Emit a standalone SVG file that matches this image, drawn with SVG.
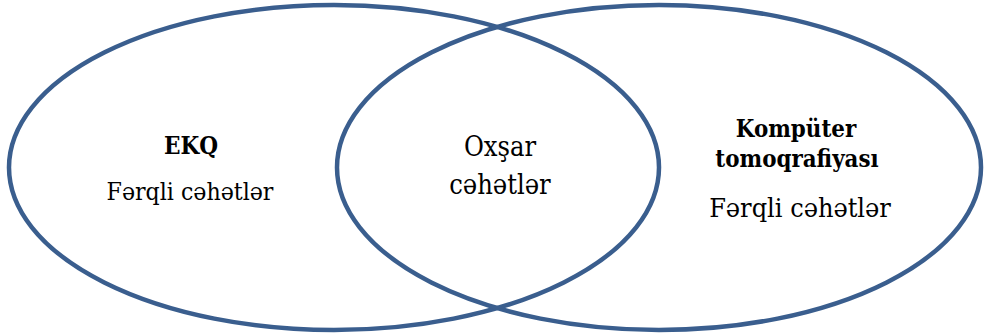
<svg xmlns="http://www.w3.org/2000/svg" width="984" height="334" viewBox="0 0 984 334">
<style>
.ring{fill:none;stroke:#3A5E8E;stroke-width:4.5}
.t{font-family:"DejaVu Serif","Liberation Serif",serif;font-stretch:condensed;fill:#000;text-anchor:middle}
.b{font-weight:bold}
</style>
<rect width="984" height="334" fill="#fff"/>
<g id="left">
<ellipse class="ring" cx="334" cy="167.5" rx="325" ry="162.5"/>
<text class="t b" x="191" y="154" font-size="24">EKQ</text>
<text class="t" x="190" y="200" font-size="24.6">Fərqli cəhətlər</text>
</g>
<g id="right">
<ellipse class="ring" cx="659" cy="167.5" rx="322" ry="162.5"/>
<text class="t b" x="796" y="137" font-size="23.8">Kompüter</text>
<text class="t b" x="797" y="167" font-size="23.8">tomoqrafiyası</text>
<text class="t" x="800" y="217" font-size="26.8">Fərqli cəhətlər</text>
</g>
<g id="middle">
<text class="t" x="500" y="156" font-size="27">Oxşar</text>
<text class="t" x="500" y="194" font-size="27">cəhətlər</text>
</g>
<g id="connectors"/>
</svg>
